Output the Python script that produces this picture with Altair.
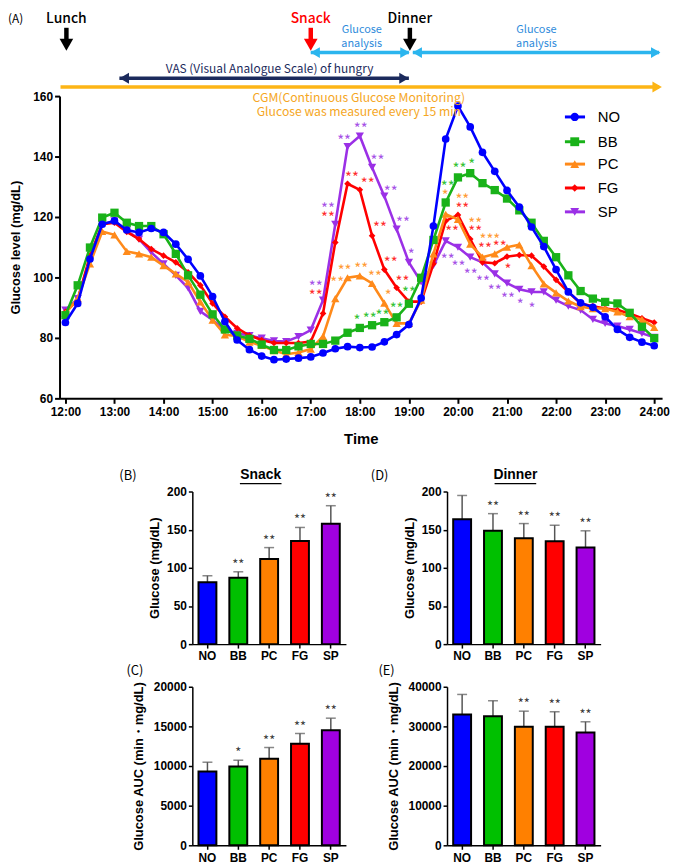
import altair as alt
import pandas as pd

# ---------------- data: CGM curves (every 15 min from 12:00 to 24:00) ----------------
TIME_LABELS = [f"{12 + m // 60}:{m % 60:02d}" for m in range(0, 721, 15)]

NO = [85.1, 91.4, 106.1, 117.6, 118.7, 115.7, 114.9, 116.2, 114.9, 111.0, 106.0, 100.5, 93.7,
      85.4, 79.3, 76.1, 74.0, 72.8, 73.0, 73.3, 73.7, 75.0, 76.4, 77.1, 76.8, 77.0, 78.7, 81.1,
      84.4, 93.2, 117.0, 145.8, 156.7, 149.8, 141.4, 135.1, 128.8, 123.3, 116.7, 110.2, 102.6,
      95.2, 91.6, 90.1, 87.0, 82.8, 80.2, 78.6, 77.4]
BB = [87.5, 97.4, 109.9, 119.8, 121.4, 118.1, 117.0, 117.0, 114.3, 107.8, 100.7, 94.3, 87.8,
      82.8, 80.8, 79.7, 77.8, 76.0, 76.0, 77.2, 78.0, 78.0, 79.1, 81.7, 83.3, 84.2, 85.2, 86.8,
      91.3, 99.9, 112.4, 124.8, 133.1, 134.5, 131.2, 128.9, 126.1, 122.2, 118.1, 112.1, 106.7,
      100.7, 95.5, 93.0, 91.9, 91.4, 88.3, 83.7, 79.9]
PC = [88.1, 93.0, 104.5, 115.2, 114.1, 108.6, 107.8, 106.7, 103.9, 101.2, 98.5, 91.9, 85.9,
      81.0, 80.6, 78.6, 77.5, 75.8, 74.6, 75.2, 76.3, 80.5, 93.0, 99.9, 100.5, 98.0, 91.5, 84.8,
      84.8, 92.5, 107.8, 120.9, 119.2, 111.0, 106.7, 107.8, 110.0, 110.8, 103.9, 97.9, 94.9,
      92.2, 90.3, 89.7, 89.7, 88.6, 87.0, 86.1, 83.5]
FG = [88.6, 92.5, 107.2, 117.6, 118.1, 115.1, 112.7, 109.4, 107.2, 105.0, 101.7, 97.4, 91.4,
      87.0, 83.2, 80.8, 79.3, 78.3, 78.3, 78.3, 78.8, 88.1, 111.6, 131.0, 129.0, 113.8, 102.6,
      96.6, 92.0, 92.0, 104.5, 118.7, 120.7, 112.7, 105.0, 104.7, 106.9, 107.4, 107.2, 103.6,
      99.2, 95.2, 91.4, 90.5, 89.7, 89.2, 88.1, 86.5, 85.1]
SP = [89.2, 93.0, 106.1, 117.6, 118.7, 115.4, 112.7, 108.3, 104.5, 100.7, 96.5, 88.8, 85.9,
      82.6, 81.5, 80.8, 79.9, 79.0, 78.8, 80.4, 82.6, 92.5, 117.6, 143.3, 146.8, 136.4, 126.9,
      116.0, 105.0, 98.5, 104.0, 112.1, 110.0, 106.7, 105.0, 101.2, 98.1, 96.1, 95.2, 95.2,
      92.5, 90.5, 89.2, 86.1, 84.8, 83.9, 82.8, 81.5, 80.2]

GROUPS = ["NO", "BB", "PC", "FG", "SP"]
SERIES = [NO, BB, PC, FG, SP]
LINE_COLORS = ["#0000FF", "#19B219", "#FF8A1A", "#FF0000", "#9B30E6"]
STAR_COLORS = ["#0000FF", "#33C233", "#FF9A33", "#FF2A2A", "#A650E6"]
SHAPES = ["circle", "square", "triangle-up", "diamond", "triangle-down"]
SIZES = [60, 70, 70, 45, 70]

# significance marks on the curves
STAR_GROUP = (["SP"] * 16) + (["FG"] * 13) + (["PC"] * 9) + (["BB"] * 8)
STAR_HOUR = [5.10, 5.35, 5.68, 6.02, 6.36, 6.63, 6.88, 7.05, 7.79, 8.01, 8.26, 8.51, 8.75, 9.02, 9.27, 9.51,
             5.10, 5.35, 5.84, 6.16, 6.41, 6.63, 6.87, 8.09, 7.88, 8.35, 8.55, 8.85, 9.02,
             5.54, 5.69, 6.03, 6.31, 6.58, 7.74, 8.09, 8.35, 8.65,
             5.94, 6.20, 6.46, 6.75, 7.00, 7.79, 8.03, 8.28]
STAR_VALUE = [97.7, 123.6, 146.0, 150.1, 139.4, 129.3, 118.9, 108.3, 106.7, 104.3, 101.7, 99.3, 96.5, 93.9, 91.7, 90.5,
              94.9, 120.7, 133.8, 131.8, 117.3, 105.6, 99.6, 123.6, 116.0, 116.0, 110.5, 111.0, 103.4,
              99.0, 103.2, 103.9, 101.2, 94.9, 128.0, 126.6, 118.7, 113.4,
              86.7, 87.3, 88.1, 90.6, 95.7, 130.9, 136.7, 138.1]
STAR_TEXT = ["**", "**", "**", "**", "**", "**", "**", "*", "**", "**", "**", "**", "**", "**", "*", "*",
             "**", "**", "**", "**", "**", "**", "**", "**", "**", "**", "**", "**", "*",
             "**", "**", "**", "**", "*", "*", "**", "**", "***",
             "*", "**", "**", "**", "**", "**", "**", "*"]

# bar panels
SNACK_GLU = [81, 87, 111.7, 135, 157.7]
SNACK_GLU_TOP = [89.6, 94.8, 126.5, 152.9, 181.4]
SNACK_GLU_SIG = ["", "**", "**", "**", "**"]
DINNER_GLU = [163.6, 148.5, 138.6, 134.7, 126.5]
DINNER_GLU_TOP = [194.8, 171, 158, 155.8, 148.5]
DINNER_GLU_SIG = ["", "**", "**", "**", "**"]
SNACK_AUC = [9306, 9937, 10909, 12803, 14520]
SNACK_AUC_TOP = [10480, 10732, 12336, 14104, 16035]
SNACK_AUC_SIG = ["", "*", "**", "**", "**"]
DINNER_AUC = [33005, 32576, 29899, 29899, 28460]
DINNER_AUC_TOP = [38056, 36465, 33838, 33687, 31161]
DINNER_AUC_SIG = ["", "", "**", "**", "**"]
BAR_COLORS = ["#0000FF", "#00C000", "#FF8000", "#FF0000", "#A000E0"]

FONT = "Liberation Sans"
JP = "Noto Sans CJK JP"

# ---------------- main chart ----------------
x_scale = alt.Scale(domain=[-0.12, 12.16], nice=False, zero=False)
y_scale = alt.Scale(domain=[60, 160], nice=False, zero=False)
x_enc = alt.X("hour:Q", scale=x_scale,
              axis=alt.Axis(values=list(range(13)), labelExpr="(12 + datum.value) + ':00'",
                            title="Time", titleFontSize=15, titlePadding=15, labelFlush=False,
                            labelFontSize=12, labelPadding=3, tickSize=5, domainWidth=2, tickWidth=2))
y_enc = alt.Y("value:Q", scale=y_scale,
              axis=alt.Axis(values=[60, 80, 100, 120, 140, 160], title="Glucose level (mg/dL)",
                            titleFontSize=13, titlePadding=10, labelFontSize=12, tickSize=5,
                            domainWidth=2, tickWidth=2))

layers = []
for g in ["SP", "FG", "PC", "BB", "NO"]:
    k = GROUPS.index(g)
    d = pd.DataFrame({"hour": [i * 0.25 for i in range(len(SERIES[k]))], "value": SERIES[k], "time": TIME_LABELS})
    layers.append(alt.Chart(d).mark_line(strokeWidth=2.6, color=LINE_COLORS[k]).encode(x=x_enc, y=y_enc))
    layers.append(alt.Chart(d).mark_point(filled=True, opacity=1, size=SIZES[k], shape=SHAPES[k],
                                          color=LINE_COLORS[k]).encode(x=x_enc, y=y_enc))

stars = pd.DataFrame({"hour": STAR_HOUR, "value": STAR_VALUE, "text": STAR_TEXT,
                      "color": [STAR_COLORS[GROUPS.index(g)] for g in STAR_GROUP]})
layers.append(alt.Chart(stars).mark_text(font=JP, fontSize=15, baseline="middle", dy=3).encode(
    x=x_enc, y=y_enc, text="text:N", color=alt.Color("color:N", scale=None)))

# legend
LEG_VALUE = [153.1, 144.9, 137.5, 129.6, 121.7]
leg = pd.DataFrame({"hour": [10.18] * 5, "hour2": [10.59] * 5, "mid": [10.38] * 5, "txt": [10.85] * 5,
                    "value": LEG_VALUE, "grp": GROUPS, "color": LINE_COLORS})
layers.append(alt.Chart(leg).mark_rule(strokeWidth=3).encode(
    x=x_enc, x2="hour2:Q", y=y_enc, color=alt.Color("color:N", scale=None)))
for k, g in enumerate(GROUPS):
    layers.append(alt.Chart(leg[leg["grp"] == g]).mark_point(filled=True, opacity=1, size=SIZES[k] + 10,
                                                              shape=SHAPES[k], color=LINE_COLORS[k]).encode(
        x=alt.X("mid:Q", scale=x_scale), y=y_enc))
layers.append(alt.Chart(leg).mark_text(font=FONT, fontSize=15, align="left", baseline="middle", color="black").encode(
    x=alt.X("txt:Q", scale=x_scale), y=y_enc, text="grp:N"))

# top annotations (timeline)
ann_left = pd.DataFrame({"hour": [-1.17], "value": [185.6], "text": ["(A)"]})
ann_mid = pd.DataFrame({"hour": [0.02, 5.0, 7.02], "value": [185.4, 185.4, 185.4],
                        "text": ["Lunch", "Snack", "Dinner"], "color": ["black", "#FF0000", "black"]})
layers.append(alt.Chart(ann_left).mark_text(font=JP, fontSize=12, align="left", baseline="middle", color="black").encode(
    x=x_enc, y=y_enc, text="text:N"))
layers.append(alt.Chart(ann_mid).mark_text(font=JP, fontSize=14, fontWeight=500, baseline="middle").encode(
    x=x_enc, y=y_enc, text="text:N", color=alt.Color("color:N", scale=None)))

arrows_down = pd.DataFrame({"hour": [0.02, 5.0, 7.02], "value": [182.6, 182.6, 182.6], "value2": [178.4, 178.4, 178.4],
                            "head": [177.0, 177.0, 177.0], "color": ["black", "#FF0000", "black"]})
layers.append(alt.Chart(arrows_down).mark_rule(strokeWidth=4.5).encode(
    x=x_enc, y=y_enc, y2="value2:Q", color=alt.Color("color:N", scale=None)))
layers.append(alt.Chart(arrows_down).mark_point(shape="triangle-down", filled=True, opacity=1, size=190).encode(
    x=x_enc, y=alt.Y("head:Q", scale=y_scale), color=alt.Color("color:N", scale=None)))

GA_BLUE = "#2E8BDB"
ARROW_BLUE = "#2BB5EE"
NAVY = "#1B2A5C"
GOLD = "#FDB515"
CGM_TXT = "#F5A623"

blue_txt = pd.DataFrame({"hour": [6.04, 6.04, 9.6, 9.6], "value": [182.0, 177.2, 182.0, 177.2],
                         "text": ["Glucose", "analysis", "Glucose", "analysis"]})
layers.append(alt.Chart(blue_txt).mark_text(font=JP, fontSize=11, color=GA_BLUE, baseline="middle").encode(
    x=x_enc, y=y_enc, text="text:N"))

harrows = pd.DataFrame({"hour": [5.0, 7.08, 1.1, -0.1], "hour2": [7.0, 12.1, 7.0, 12.1],
                        "value": [174.4, 174.4, 165.9, 163.0],
                        "color": [ARROW_BLUE, ARROW_BLUE, NAVY, GOLD]})
layers.append(alt.Chart(harrows).mark_rule(strokeWidth=3.5).encode(
    x=x_enc, x2="hour2:Q", y=y_enc, color=alt.Color("color:N", scale=None)))
heads = pd.DataFrame({"hour": [5.09, 6.92, 7.17, 12.03, 1.2, 6.9, 12.06],
                      "value": [174.4, 174.4, 174.4, 174.4, 165.9, 165.9, 163.0],
                      "shp": ["triangle-left", "triangle-right", "triangle-left", "triangle-right",
                              "triangle-left", "triangle-right", "triangle-right"],
                      "color": [ARROW_BLUE] * 4 + [NAVY] * 2 + [GOLD]})
for shp in ["triangle-left", "triangle-right"]:
    layers.append(alt.Chart(heads[heads["shp"] == shp]).mark_point(shape=shp, filled=True, opacity=1, size=120).encode(
        x=x_enc, y=y_enc, color=alt.Color("color:N", scale=None)))

vas = pd.DataFrame({"hour": [4.16], "value": [169.0], "text": ["VAS (Visual Analogue Scale) of hungry"]})
layers.append(alt.Chart(vas).mark_text(font=JP, fontSize=12, color=NAVY, baseline="middle").encode(
    x=x_enc, y=y_enc, text="text:N"))
cgm = pd.DataFrame({"hour": [5.98, 5.98], "value": [159.3, 154.8],
                    "text": ["CGM(Continuous Glucose Monitoring)", "Glucose was measured every 15 min"]})
layers.append(alt.Chart(cgm).mark_text(font=JP, fontSize=12.3, color=CGM_TXT, baseline="middle").encode(
    x=x_enc, y=y_enc, text="text:N"))

main = alt.layer(*layers).properties(width=608, height=305)


# ---------------- bar panels ----------------
def bar_panel(vals, tops, sigs, dom, ticks, ytitle, label, label_dx, title=None, tpad=5, h=155):
    d = pd.DataFrame({"group": GROUPS, "value": vals})
    dt = pd.DataFrame({"group": GROUPS, "value": tops, "sig": sigs})
    x = alt.X("group:N", sort=GROUPS, scale=alt.Scale(paddingInner=0.42, paddingOuter=0.2),
              axis=alt.Axis(title=None, labelAngle=0, labelFontSize=12, tickSize=4, labelPadding=3,
                            domainWidth=1.5, tickWidth=1.5))
    y = alt.Y("value:Q", scale=alt.Scale(domain=dom, nice=False, zero=True),
              axis=alt.Axis(values=ticks, title=ytitle, format="d", titleFontSize=13, labelFontSize=12,
                            tickSize=4, labelPadding=2, titlePadding=tpad, domainWidth=1.5, tickWidth=1.5))
    err = alt.Chart(dt).mark_rule(color="#555555", strokeWidth=1.5).encode(
        x=x, y=y, y2=alt.datum(dom[0]))
    cap = alt.Chart(dt).mark_tick(color="#555555", thickness=1.5, size=10).encode(x=x, y=y)
    bars = alt.Chart(d).mark_bar(stroke="black", strokeWidth=2).encode(
        x=x, y=y, color=alt.Color("group:N", scale=alt.Scale(domain=GROUPS, range=BAR_COLORS), legend=None))
    sig = alt.Chart(dt).mark_text(font=JP, baseline="bottom", dy=0, fontSize=13, color="#333333").encode(
        x=x, y=y, text="sig:N")
    lab = alt.Chart(pd.DataFrame({"t": [label]})).mark_text(font=JP, fontSize=13, baseline="middle").encode(
        x=alt.value(label_dx), y=alt.value(-16), text="t:N")
    parts = [err, cap, bars, sig, lab]
    if title:
        parts.append(alt.Chart(pd.DataFrame({"t": [title]})).mark_text(
            font=FONT, fontSize=14, fontWeight="bold", baseline="middle").encode(
            x=alt.value(69), y=alt.value(-17), text="t:N"))
        parts.append(alt.Chart(pd.DataFrame({"t": [title]})).mark_rule(strokeWidth=1.3, color="black").encode(
            x=alt.value(48), x2=alt.value(90), y=alt.value(-8)))
    return alt.layer(*parts).properties(width=155, height=h)


B = bar_panel(SNACK_GLU, SNACK_GLU_TOP, SNACK_GLU_SIG, [0, 200], [0, 50, 100, 150, 200],
              "Glucose (mg/dL)", "(B)", -65, "Snack", h=154)
D = bar_panel(DINNER_GLU, DINNER_GLU_TOP, DINNER_GLU_SIG, [0, 200], [0, 50, 100, 150, 200],
              "Glucose (mg/dL)", "(D)", -68, "Dinner", h=154)
C = bar_panel(SNACK_AUC, SNACK_AUC_TOP, SNACK_AUC_SIG, [0, 20000], [0, 5000, 10000, 15000, 20000],
              "Glucose AUC  (min・mg/dL)", "(C)", -58, None, tpad=8, h=160)
E = bar_panel(DINNER_AUC, DINNER_AUC_TOP, DINNER_AUC_SIG, [0, 40000], [0, 10000, 20000, 30000, 40000],
              "Glucose AUC  (min・mg/dL)", "(E)", -61, None, tpad=8, h=160)

bottom = alt.concat(B, D, C, E, columns=2, spacing={"row": 3, "column": 25})
spacer = alt.Chart(pd.DataFrame({"a": [0]})).mark_point(opacity=0).encode(
    x=alt.value(0), y=alt.value(0)).properties(width=50, height=10)

chart = alt.vconcat(main, alt.hconcat(spacer, bottom, spacing=10), spacing=21).properties(
    padding={"left": 0, "top": 0, "right": 0, "bottom": 0}
).configure_view(stroke=None).configure_axis(
    grid=False, domainColor="black", tickColor="black", labelColor="black", titleColor="black",
    labelFont=FONT, titleFont=FONT, labelFontWeight="bold", titleFontWeight="bold"
)

chart.save("out.html", embed_options={"renderer": "svg", "actions": False})
